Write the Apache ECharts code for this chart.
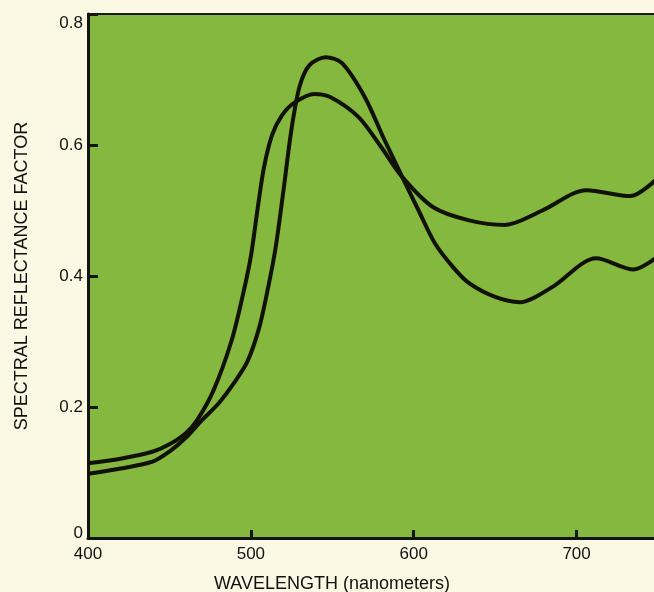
<!DOCTYPE html>
<html>
<head>
<meta charset="utf-8">
<script src="https://cdn.jsdelivr.net/npm/echarts@6/dist/echarts.min.js"></script>
<style>
  html, body { margin: 0; padding: 0; background: #fbf8e4; }
  #chart { width: 654px; height: 592px; }
</style>
</head>
<body>
<div id="chart"></div>
<script>
// wavelength (nm) / reflectance
var wavelengthA = [400, 420, 440, 450, 460, 470, 480, 490, 498, 505, 510, 515, 520, 525, 530, 536, 546, 556, 570, 582, 593, 603, 613, 624, 634, 650, 665, 685, 712, 735, 750];
var reflectA    = [0.098, 0.106, 0.117, 0.132, 0.153, 0.18, 0.205, 0.238, 0.27, 0.32, 0.375, 0.44, 0.53, 0.625, 0.69, 0.722, 0.734, 0.725, 0.673, 0.608, 0.551, 0.50, 0.45, 0.414, 0.389, 0.368, 0.36, 0.383, 0.427, 0.41, 0.43];

var wavelengthB = [400, 420, 440, 450, 460, 467, 477, 488, 495, 500, 504, 508, 513, 519, 527, 539, 549, 566, 580, 593, 612, 634, 656, 679, 706, 733, 750];
var reflectB    = [0.114, 0.121, 0.132, 0.143, 0.16, 0.18, 0.225, 0.30, 0.37, 0.43, 0.50, 0.565, 0.615, 0.645, 0.665, 0.678, 0.673, 0.643, 0.597, 0.551, 0.505, 0.485, 0.478, 0.50, 0.531, 0.522, 0.55];

var yTicks = [0, 0.2, 0.4, 0.6, 0.8];

function pairs(xs, ys) {
  return xs.map(function (x, i) { return [x, ys[i]]; });
}

var chart = echarts.init(document.getElementById('chart'));
var font = 'Liberation Sans, Arial, sans-serif';

chart.setOption({
  backgroundColor: '#fbf8e4',
  animation: false,
  grid: {
    left: 88, top: 14, right: -4, bottom: 54,
    outerBoundsMode: 'none',
    containLabel: false,
    show: true,
    backgroundColor: '#84b83e',
    borderColor: '#1a1a12',
    borderWidth: 2
  },
  xAxis: {
    type: 'value',
    min: 400, max: 750, interval: 100,
    name: 'WAVELENGTH (nanometers)',
    nameLocation: 'middle',
    nameGap: 37,
    nameTextStyle: { fontFamily: font, fontSize: 18, color: '#111', padding: [0, 82, 0, 0] },
    axisLine: { show: true, lineStyle: { color: '#141410', width: 3 } },
    axisTick: { show: true, inside: true, length: 8, lineStyle: { color: '#141410', width: 3 } },
    axisLabel: { fontFamily: font, fontSize: 17, color: '#111', margin: 8, showMaxLabel: false },
    splitLine: { show: false }
  },
  yAxis: {
    type: 'value',
    min: 0, max: 0.8, interval: 0.2,
    name: 'SPECTRAL REFLECTANCE FACTOR',
    nameLocation: 'middle',
    nameGap: 57,
    nameRotate: 90,
    nameTextStyle: { fontFamily: font, fontSize: 18, color: '#111' },
    axisLine: { show: true, lineStyle: { color: '#141410', width: 3 } },
    axisTick: { show: true, inside: true, length: 10, lineStyle: { color: '#141410', width: 3 } },
    axisLabel: {
      fontFamily: font, fontSize: 17, color: '#111', margin: 5,
      formatter: function (v) {
        var t = yTicks.find(function (k) { return Math.abs(k - v) < 1e-6; });
        if (t === 0) return '{bot|0}';
        if (t === 0.8) return '{top|0.8}';
        return String(Math.round(v * 10) / 10);
      },
      rich: {
        top: { fontFamily: font, fontSize: 17, color: '#111', padding: [18, 0, 0, 0] },
        bot: { fontFamily: font, fontSize: 17, color: '#111', padding: [0, 0, 10, 0] }
      }
    },
    splitLine: { show: false }
  },
  series: [
    {
      type: 'line',
      data: pairs(wavelengthA, reflectA),
      smooth: 0.3,
      symbol: 'none',
      lineStyle: { color: '#111108', width: 4 }
    },
    {
      type: 'line',
      data: pairs(wavelengthB, reflectB),
      smooth: 0.3,
      symbol: 'none',
      lineStyle: { color: '#111108', width: 4 }
    }
  ]
});
</script>
</body>
</html>
